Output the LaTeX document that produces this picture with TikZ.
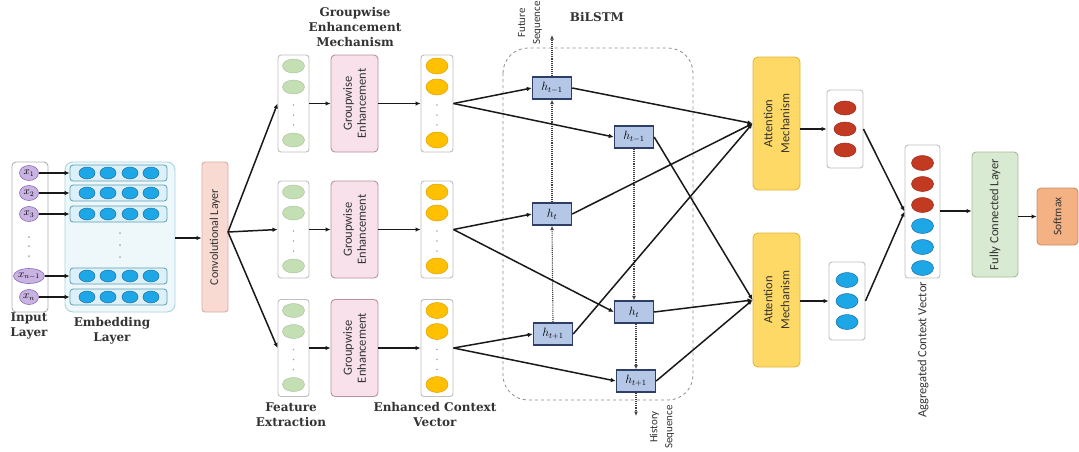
\documentclass[tikz,border=0pt]{standalone}
\usepackage{fontspec}
\newfontfamily\lblfont{DejaVu Serif}
\newfontfamily\boxfont{Carlito}
\usetikzlibrary{arrows.meta,shapes.geometric}
\definecolor{inpurple}{HTML}{C9B3E2}
\definecolor{inpurpleD}{HTML}{8E6CB8}
\definecolor{embfill}{HTML}{EEF8FB}
\definecolor{embdraw}{HTML}{A9D3DF}
\definecolor{rowfill}{HTML}{DDF0F7}
\definecolor{rowdraw}{HTML}{5B9FB3}
\definecolor{bluec}{HTML}{1EA7E6}
\definecolor{bluecD}{HTML}{1A6FA8}
\definecolor{convfill}{HTML}{F8DAD2}
\definecolor{convdraw}{HTML}{D9ADA2}
\definecolor{greenc}{HTML}{C4DFB4}
\definecolor{gefill}{HTML}{F8E1EA}
\definecolor{gedraw}{HTML}{B9909F}
\definecolor{yellowc}{HTML}{FFC000}
\definecolor{yellowcD}{HTML}{DDA200}
\definecolor{hfill}{HTML}{B4C7E7}
\definecolor{hdraw}{HTML}{2F3E66}
\definecolor{attfill}{HTML}{FFD966}
\definecolor{attdraw}{HTML}{E3B43A}
\definecolor{redc}{HTML}{C23A22}
\definecolor{redcD}{HTML}{A02818}
\definecolor{fcfill}{HTML}{D9EAD3}
\definecolor{fcdraw}{HTML}{A3BC96}
\definecolor{smfill}{HTML}{F4B183}
\definecolor{smdraw}{HTML}{C88E66}
\tikzset{
  conn/.style={draw=black!90, line width=1.5pt},
  arr/.style={conn, -{Latex[length=5pt,width=4.5pt]}},
  dotarr/.style={draw=black!75, line width=1.1pt, densely dotted, -{Latex[length=4.5pt,width=4pt]}},
  colbox/.style={draw=black!25, fill=white, rounded corners=3pt, line width=0.9pt, inner sep=0pt},
  gebox/.style={draw=gedraw, fill=gefill, rounded corners=4pt, line width=0.9pt, inner sep=0pt, minimum width=47pt, minimum height=97pt},
  hbox/.style={draw=hdraw, fill=hfill, line width=1.4pt, minimum width=39pt, minimum height=22pt, inner sep=0pt, font=\fontsize{12}{14}\selectfont},
  attbox/.style={draw=attdraw, fill=attfill, rounded corners=5pt, line width=0.9pt, inner sep=0pt, minimum width=47pt},
  boxtext/.style={rotate=90, align=center, font=\boxfont\fontsize{12.5}{14}\selectfont, text=black!80},
  lbl/.style={align=center, font=\lblfont\bfseries\fontsize{12}{15}\selectfont, text=black!80},
  rlbl/.style={rotate=90, align=center, font=\boxfont\fontsize{11}{15}\selectfont, text=black!80},
  pdot/.style={fill=black!35}
}
\begin{document}
\begin{tikzpicture}[x=1pt,y=-1pt]
\useasboundingbox (0,0) rectangle (1079,451);
\fill[white] (0,0) rectangle (1079,451);

% ---------- Input layer ----------
\node[colbox, draw=black!30, rounded corners=4pt, minimum width=36pt, minimum height=150pt] (inbox) at (30,237) {};
\foreach \y/\t [count=\i] in {173/x_1, 193/x_2, 214/x_3, 276/x_{n-1}, 297/x_n} {
  \node[ellipse, draw=inpurpleD, fill=inpurple, line width=0.6pt, minimum width=19pt, minimum height=15pt, inner sep=0pt, font=\fontsize{10.5}{11}\selectfont] (x\i) at (29,\y) {$\t$};
}
\foreach \y in {237,246,256} \fill[pdot] (29,\y) circle (1pt);

% ---------- Embedding layer ----------
\node[draw=embdraw, fill=embfill, rounded corners=8pt, line width=0.9pt, minimum width=110pt, minimum height=150pt, inner sep=0pt] (emb) at (120,237) {};
\foreach \y [count=\i] in {173,193,214,276,297} {
  \node[draw=rowdraw, fill=rowfill, rounded corners=3pt, line width=0.8pt, minimum width=97pt, minimum height=16pt, inner sep=0pt] (r\i) at (118.5,\y) {};
  \foreach \cx in {87,108,130,151} \filldraw[draw=bluecD, fill=bluec, line width=0.5pt] (\cx,\y) ellipse (8pt and 6pt);
  \draw[arr] (x\i.east) -- (r\i.west);
}
\foreach \y in {233,245,257} \fill[pdot] (120,\y) circle (1pt);

% ---------- Convolutional layer ----------
\node[draw=convdraw, fill=convfill, rounded corners=3pt, line width=0.9pt, minimum width=26pt, minimum height=150pt, inner sep=0pt] (conv) at (215,237) {};
\node[boxtext, font=\boxfont\fontsize{12}{14}\selectfont] at (conv) {Convolutional Layer};
\draw[arr] (emb.east |- 0,238) -- (conv.west |- 0,238);
\coordinate (cb) at (228,232);

% ---------- Feature / Groupwise / Enhanced rows ----------
\foreach \c [count=\n] in {103.5,229.5,348} {
  \node[colbox, minimum width=31pt, minimum height=97pt] (f\n) at (293.5,\c) {};
  \node[gebox] (g\n) at (354.5,\c) {};
  \node[boxtext] at (g\n) {Groupwise\\Enhancement};
  \node[colbox, minimum width=32pt, minimum height=97pt] (y\n) at (437,\c) {};
  \foreach \o in {11,32,85} {
    \filldraw[draw=greenc!85!black, fill=greenc, line width=0.4pt] (293.5,\c-48.5+\o) ellipse (11pt and 7pt);
    \filldraw[draw=yellowcD, fill=yellowc, line width=0.5pt] (437,\c-48.5+\o) ellipse (11pt and 8pt);
  }
  \foreach \o in {50,60,70} {
    \fill[pdot] (293.5,\c-48.5+\o) circle (0.9pt);
    \fill[pdot] (437,\c-48.5+\o) circle (0.9pt);
  }
  \draw[arr] (cb) -- (f\n.west);
  \draw[arr] (f\n.east) -- (g\n.west);
  \draw[arr] (g\n.east) -- (y\n.west);
}

% ---------- BiLSTM ----------
\draw[draw=black!45, dashed, line width=0.8pt, rounded corners=25pt] (503,48) rectangle (693,400);
\node[hbox] (a1) at (552,88) {$h_{t-1}$};
\node[hbox] (a2) at (552,214) {$h_{t}$};
\node[hbox] (a3) at (553,334) {$h_{t+1}$};
\node[hbox] (b1) at (634,137) {$h_{t-1}$};
\node[hbox] (b2) at (634,312) {$h_{t}$};
\node[hbox] (b3) at (636,381) {$h_{t+1}$};
\coordinate (fut) at (552,35);
\coordinate (hist) at (636,416);
\draw[dotarr] (a3.north) -- (a2.south);
\draw[dotarr] (a2.north) -- (a1.south);
\draw[dotarr] (a1.north) -- (fut);
\draw[dotarr] (b1.south) -- (b1.south |- b2.north);
\draw[dotarr] (b2.south -| b3.north) -- (b3.north);
\draw[dotarr] (b3.south) -- (hist);

\draw[arr] (y1.east) -- (a1.west);
\draw[arr] (y1.east) -- (b1.west);
\draw[arr] (y2.east) -- (a2.west);
\draw[arr] (y2.east) -- (b2.west);
\draw[arr] (y3.east) -- (a3.west);
\draw[arr] (y3.east) -- (b3.west);

% ---------- Attention ----------
\node[attbox, minimum height=133pt] (att1) at (776.5,123.5) {};
\node[attbox, minimum height=134pt] (att2) at (776.5,300) {};
\node[boxtext, font=\boxfont\fontsize{12.5}{17}\selectfont] at (att1) {Attention\\Mechanism};
\node[boxtext, font=\boxfont\fontsize{12.5}{17}\selectfont] at (att2) {Attention\\Mechanism};
\draw[arr] (a1.east) -- (att1.west);
\draw[arr] (a2.east) -- (att1.west);
\draw[arr] (a3.east) -- (att1.west);
\draw[arr] (b1.east) -- (att2.west);
\draw[arr] (b2.east) -- (att2.west);
\draw[arr] (b3.east) -- (att2.west);

% ---------- Context vectors ----------
\node[colbox, minimum width=36pt, minimum height=78pt] (rv) at (845,129) {};
\foreach \y in {108,129,150} \filldraw[draw=redcD, fill=redc, line width=0.5pt] (845,\y) ellipse (11pt and 7pt);
\node[colbox, minimum width=36pt, minimum height=78pt] (bv) at (847,301) {};
\foreach \y in {280,301,322} \filldraw[draw=bluecD, fill=bluec, line width=0.5pt] (847,\y) ellipse (11pt and 7.5pt);
\draw[arr] (att1.east |- rv.west) -- (rv.west);
\draw[arr] (att2.east |- bv.west) -- (bv.west);

\node[colbox, minimum width=35pt, minimum height=133pt] (agg) at (922.5,211.5) {};
\foreach \y in {163,184,205} \filldraw[draw=redcD, fill=redc, line width=0.5pt] (922.5,\y) ellipse (11pt and 7.5pt);
\foreach \y in {226,247,268} \filldraw[draw=bluecD, fill=bluec, line width=0.5pt] (922.5,\y) ellipse (11pt and 7.5pt);
\draw[arr] (rv.east) -- (agg.west);
\draw[arr] (bv.east) -- (agg.west);

% ---------- FC and Softmax ----------
\node[draw=fcdraw, fill=fcfill, rounded corners=4pt, line width=0.9pt, minimum width=46pt, minimum height=125pt, inner sep=0pt] (fc) at (995,214.5) {};
\node[boxtext] at (fc) {Fully Connected Layer};
\node[draw=smdraw, fill=smfill, rounded corners=4pt, line width=0.9pt, minimum width=41pt, minimum height=57pt, inner sep=0pt] (sm) at (1057.5,216.5) {};
\node[boxtext, font=\boxfont\fontsize{11.5}{12}\selectfont] at (sm) {Softmax};
\draw[arr] (agg.east |- 0,211) -- (fc.west |- 0,211);
\draw[arr] (fc.east |- sm.west) -- (sm.west);

% ---------- Labels ----------
\node[lbl] (lin) at (29,326) {Input\\Layer};
\node[lbl] (lemb) at (112,331) {Embedding\\Layer};
\node[lbl] (lge) at (355,27) {Groupwise\\Enhancement\\Mechanism};
\node[lbl] (lfe) at (291,415) {Feature\\Extraction};
\node[lbl] (lec) at (435,415) {Enhanced Context\\Vector};
\node[lbl] (lbi) at (597,17) {BiLSTM};
\node[rlbl] (lfs) at (530,23) {Future\\Sequence};
\node[rlbl] (lhs) at (662,427) {History\\Sequence};
\node[rlbl, font=\boxfont\fontsize{12.5}{14}\selectfont] (lagg) at (923,350) {Aggregated Context Vector};
\end{tikzpicture}
\end{document}
